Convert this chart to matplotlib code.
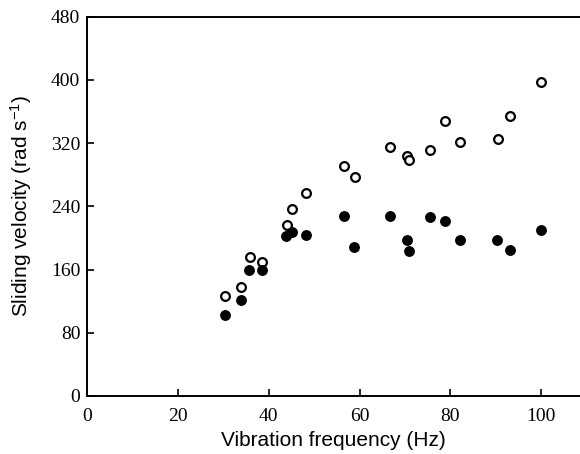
import matplotlib
matplotlib.use('Agg')
import matplotlib.pyplot as plt

plt.rcParams['mathtext.fontset'] = 'custom'
plt.rcParams['mathtext.rm'] = 'Liberation Sans'
plt.rcParams['mathtext.it'] = 'Liberation Sans'

# open circles
freq_open = [30.3, 33.8, 35.8, 38.5, 44.0, 45.2, 48.3, 56.5, 58.9, 66.7,
             70.5, 70.9, 75.5, 78.8, 82.2, 90.6, 93.2, 99.9]
vel_open = [127, 138, 176, 170, 217, 237, 257, 291, 277, 315,
            304, 299, 311, 348, 321, 325, 354, 398]

# filled circles
freq_filled = [30.3, 33.8, 35.7, 38.4, 43.8, 45.1, 48.2, 56.5, 58.7, 66.7,
               70.5, 70.8, 75.6, 78.8, 82.1, 90.4, 93.2, 99.9]
vel_filled = [103, 121, 159, 159, 203, 208, 204, 228, 188, 228,
              197, 184, 227, 222, 197, 198, 185, 210]

xticks = [0, 20, 40, 60, 80, 100]
yticks = [0, 80, 160, 240, 320, 400, 480]

fig = plt.figure(figsize=(5.8, 4.54), dpi=100)
ax = fig.add_axes([0.1505, 0.128, 0.8495, 0.835])

ax.plot(freq_open, vel_open, 'o', ms=6.3, mfc='white', mec='black', mew=1.6)
ax.plot(freq_filled, vel_filled, 'o', ms=6.8, mfc='black', mec='black')

ax.set_xlim(0, 108.6)
ax.set_ylim(0, 480)
ax.set_xticks(xticks)
ax.set_yticks(yticks)
ax.tick_params(direction='in', length=5, width=1.2, labelsize=14)
for lab in ax.get_xticklabels() + ax.get_yticklabels():
    lab.set_family('Liberation Serif')
ax.tick_params(axis='y', pad=5)
ax.tick_params(axis='x', pad=9)

for s in ['left', 'bottom', 'top']:
    ax.spines[s].set_linewidth(1.4)
ax.spines['right'].set_visible(False)

ax.set_xlabel('Vibration frequency (Hz)', family='Liberation Sans', fontsize=15, labelpad=4)
ax.set_ylabel(r'Sliding velocity (rad s$^{-1}$)', family='Liberation Sans', fontsize=15, labelpad=12)

fig.savefig('out.png', dpi=100)
